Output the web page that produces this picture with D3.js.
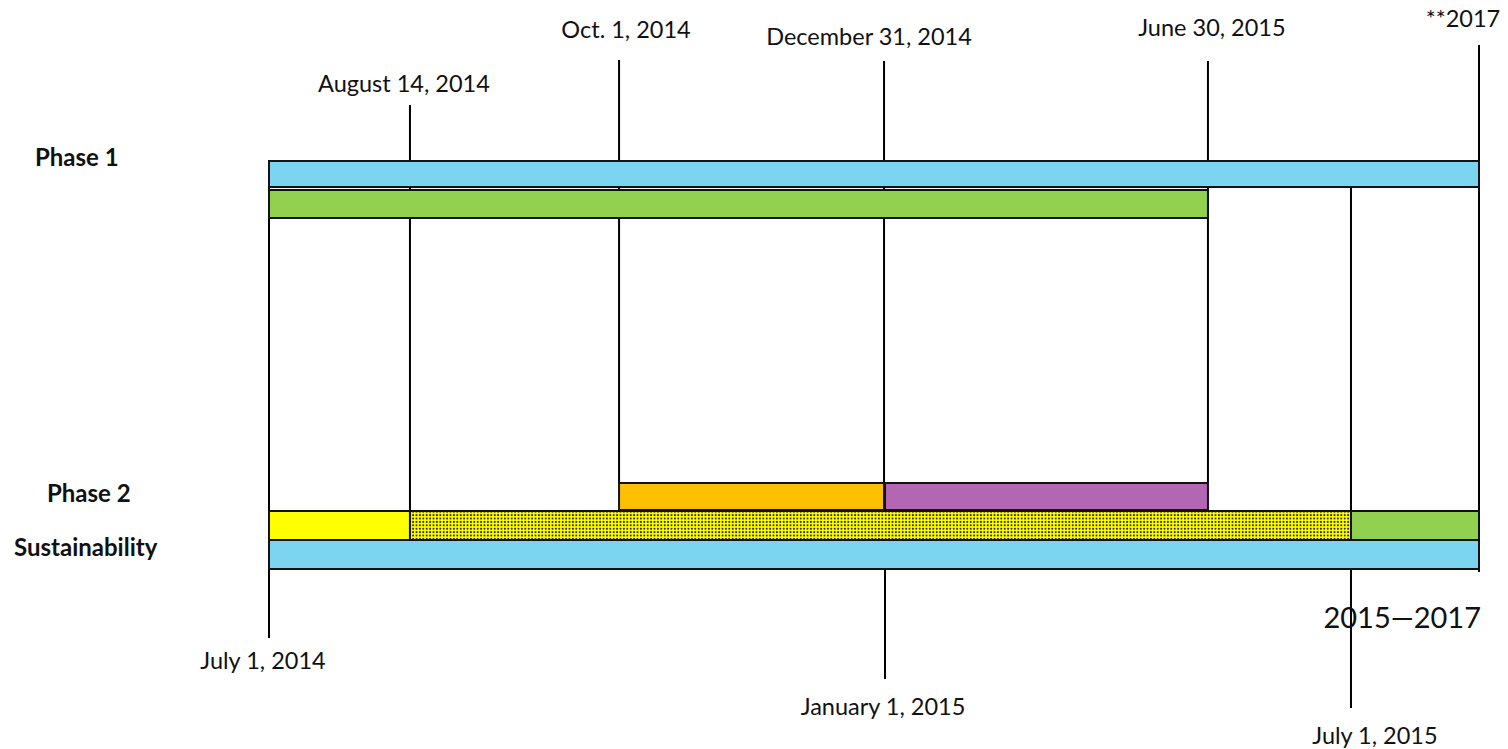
<!DOCTYPE html>
<html>
<head>
<meta charset="utf-8">
<script src="https://cdn.jsdelivr.net/npm/d3@7"></script>
<style>
  body { margin: 0; background: #fff; }
  text { font-family: Lato, "Noto Sans", sans-serif; fill: #111; }
</style>
</head>
<body>
<div id="wrapper"></div>
<script>
// milestones on the timeline
const milestoneLabels = ["July 1, 2014", "August 14, 2014", "Oct. 1, 2014", "December 31, 2014",
  "January 1, 2015", "June 30, 2015", "July 1, 2015", "**2017"]
const milestoneDates = ["2014-07-01", "2014-08-14", "2014-10-01", "2014-12-31",
  "2015-01-01", "2015-06-30", "2015-07-01", "2017-06-30"]

// bars: row, start, end
const barRows = ["p1a", "p1b", "p2a", "p2a", "p2b", "p2b", "p2b", "sus"]
const barStarts = ["2014-07-01", "2014-07-01", "2014-10-01", "2015-01-01",
  "2014-07-01", "2014-08-14", "2015-07-01", "2014-07-01"]
const barEnds = ["2017-06-30", "2015-06-30", "2014-12-31", "2015-06-30",
  "2014-08-14", "2015-07-01", "2017-06-30", "2017-06-30"]

const rowLabels = ["Phase 1", "Phase 2", "Sustainability"]
const rangeLabel = "2015\u20142017"

const parse = d3.timeParse("%Y-%m-%d")

function drawTimeline() {
  const dimensions = {
    width: 1508,
    height: 749,
    margin: { left: 269, right: 29 },
  }
  dimensions.boundedWidth = dimensions.width - dimensions.margin.left - dimensions.margin.right

  const svg = d3.select("#wrapper")
    .append("svg")
    .attr("width", dimensions.width)
    .attr("height", dimensions.height)

  // the drawing is schematic, not to scale: where each milestone sits along the bar
  const stops = [0, 0.1165, 0.2893, 0.5083, 0.5091, 0.776, 0.8942, 1]
  const xScale = d3.scaleTime()
    .domain(milestoneDates.map(parse))
    .range(stops.map(s => dimensions.margin.left + s * dimensions.boundedWidth))

  // styles / layout
  const rowY = { p1a: [161, 187], p1b: [190, 218], p2a: [483, 510], p2b: [511, 540], sus: [540, 569] }
  const barFill = ["#7bd5f0", "#92d050", "#ffc000", "#b366b3", "#ffff00", "url(#dots)", "#92d050", "#7bd5f0"]
  const lineSpan = [[161, 638], [105, 511], [60, 483], [61, 483], [570, 679], [61, 483], [187, 708], [45, 572]]
  const labelY = [669, 92, 38, 45, 715, 36, 744, 27]
  const labelDx = [-6, -6, 7, -15, -2, 4, 24, -16]

  const defs = svg.append("defs")
  const pat = defs.append("pattern")
    .attr("id", "dots")
    .attr("patternUnits", "userSpaceOnUse")
    .attr("width", 3.4)
    .attr("height", 3.4)
  pat.append("rect").attr("width", 3.4).attr("height", 3.4).attr("fill", "#ffff00")
  pat.append("rect").attr("x", 0.8).attr("y", 0.8).attr("width", 1.8).attr("height", 1.8).attr("fill", "#2a2a08")

  // vertical milestone lines (behind bars)
  const ms = milestoneDates.map((d, i) => ({ date: parse(d), label: milestoneLabels[i], i }))
  svg.append("g")
    .selectAll("line")
    .data(ms)
    .join("line")
    .attr("x1", d => xScale(d.date))
    .attr("x2", d => xScale(d.date))
    .attr("y1", d => lineSpan[d.i][0])
    .attr("y2", d => lineSpan[d.i][1])
    .attr("stroke", "#000")
    .attr("stroke-width", 2)

  // bars
  const bars = barRows.map((r, i) => ({ row: r, start: parse(barStarts[i]), end: parse(barEnds[i]), i }))
  svg.append("g")
    .selectAll("rect")
    .data(bars)
    .join("rect")
    .attr("x", d => xScale(d.start))
    .attr("width", d => xScale(d.end) - xScale(d.start))
    .attr("y", d => rowY[d.row][0])
    .attr("height", d => rowY[d.row][1] - rowY[d.row][0])
    .attr("fill", d => barFill[d.i])
    .attr("stroke", "#111")
    .attr("stroke-width", 2)

  // milestone labels
  svg.append("g")
    .selectAll("text")
    .data(ms)
    .join("text")
    .attr("x", d => xScale(d.date) + labelDx[d.i])
    .attr("y", d => labelY[d.i])
    .attr("text-anchor", "middle")
    .style("font-size", "23.5px")
    .text(d => d.label)

  // row labels
  const rowLabelPos = [[35, 166], [47, 502], [14, 556]]
  svg.append("g")
    .selectAll("text")
    .data(rowLabels)
    .join("text")
    .attr("x", (d, i) => rowLabelPos[i][0])
    .attr("y", (d, i) => rowLabelPos[i][1])
    .style("font-size", "24px")
    .style("font-weight", "bold")
    .text(d => d)

  svg.append("text")
    .attr("x", xScale(parse("2017-06-30")) + 2)
    .attr("y", 628)
    .attr("text-anchor", "end")
    .style("font-size", "29px")
    .text(rangeLabel)
}
drawTimeline()
</script>
</body>
</html>
